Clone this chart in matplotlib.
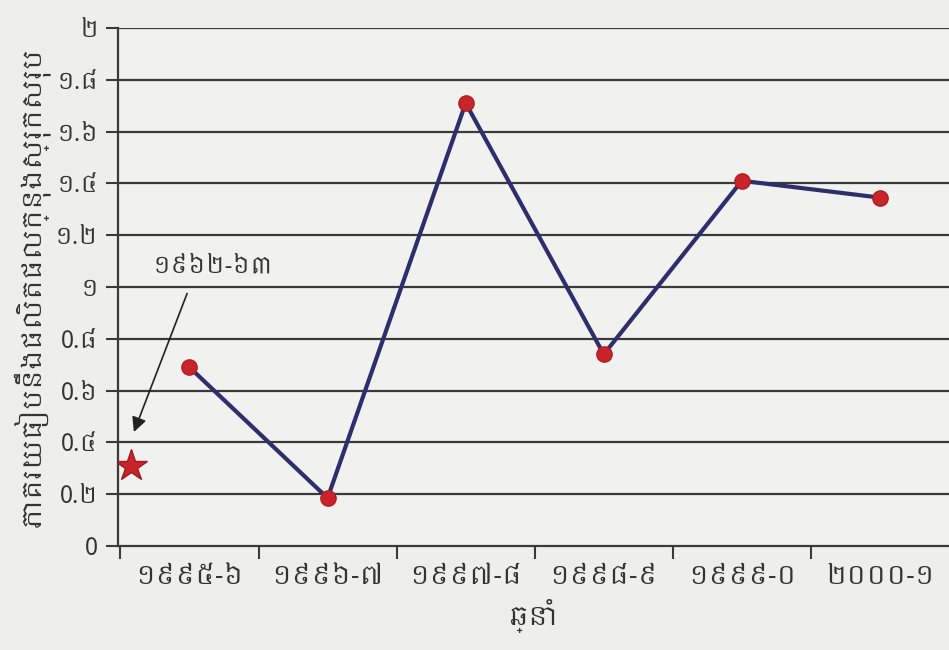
import matplotlib
matplotlib.use("Agg")
import matplotlib.pyplot as plt
from matplotlib import font_manager
import numpy as np

# pick any installed font that can draw Khmer, fall back to DejaVu
names = sorted({f.name for f in font_manager.fontManager.ttflist})
khmer = [n for n in names if "Khmer" in n]
FAMILY = khmer + ["Noto Sans", "DejaVu Sans"]
plt.rcParams["font.family"] = FAMILY

NAVY, RED, GRID, TXT = "#2f2d6b", "#c8242a", "#3a3a3a", "#333333"

# ---------------- data ----------------
years   = ["១៩៩៥-៦", "១៩៩៦-៧", "១៩៩៧-៨", "១៩៩៨-៩", "១៩៩៩-០", "២០០០-១"]
values  = [0.69, 0.185, 1.71, 0.74, 1.41, 1.345]
ref_lbl = "១៩៦២-៦៣"
ref_val = 0.31
yticks  = [0, 0.2, 0.4, 0.6, 0.8, 1, 1.2, 1.4, 1.6, 1.8, 2]
ylabels = ["0", "0.២", "0.៤", "0.៦", "0.៨", "១", "១.២", "១.៤", "១.៦", "១.៨", "២"]

fig = plt.figure(figsize=(9.49, 6.5), dpi=100, facecolor="#eeeeec")
ax = fig.add_axes([0.124, 0.16, 0.876, 0.797])
ax.set_facecolor("#f1f1ef")

x = np.arange(len(years))
for yv in yticks[1:]:
    ax.axhline(yv, color=GRID, lw=1.6, zorder=1)
ax.plot(x, values, "-", color=NAVY, lw=3, zorder=3)
ax.plot(x, values, "o", color=RED, ms=11, mec="#b01e22", zorder=4)
ax.plot([-0.42], [ref_val], "*", color=RED, ms=24, mec="#a01a1e", zorder=4)

ax.annotate("", xy=(-0.41, 0.43), xytext=(-0.01, 0.985),
            arrowprops=dict(arrowstyle="-|>", color="#222222", lw=1.2,
                            mutation_scale=22))
ax.text(0.17, 1.08, ref_lbl, ha="center", va="center", fontsize=17, color=TXT)

ax.set_xlim(-0.52, 5.5)
ax.set_ylim(0, 2)
ax.set_yticks(yticks)
ax.set_yticklabels(ylabels, fontsize=17, color=TXT)
ax.set_xticks(np.arange(-0.5, 5.5, 1))
ax.set_xticklabels([])
ax.set_xticks(x, minor=True)
ax.set_xticklabels(years, minor=True, fontsize=19, color=TXT)
ax.tick_params(axis="x", which="minor", length=0, pad=12)
ax.tick_params(axis="x", which="major", length=9, width=1.5, color=GRID)
ax.tick_params(axis="y", length=9, width=1.5, color=GRID, pad=5)
for s in ["top", "right"]:
    ax.spines[s].set_visible(False)
for s in ["left", "bottom"]:
    ax.spines[s].set_color(GRID)
    ax.spines[s].set_linewidth(1.6)

ax.set_xlabel("ឆ្នាំ", fontsize=19, color=TXT, labelpad=6)
ax.set_ylabel("ភាគរយធៀបនឹងផលិតផលក្នុងស្រុកសរុប", fontsize=19, color=TXT,
              labelpad=4)

fig.savefig("out.png", dpi=100, facecolor=fig.get_facecolor())
